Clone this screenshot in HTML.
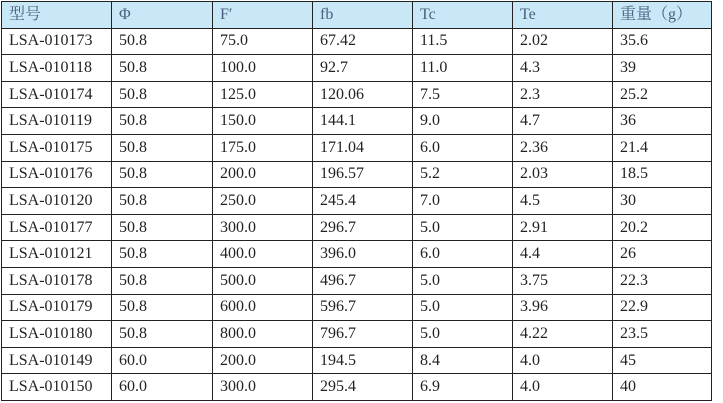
<!DOCTYPE html><html><head><style>
body{margin:0;background:#fff;width:723px;height:403px;overflow:hidden}
table{position:absolute;left:1px;top:1px;border-collapse:collapse;font-family:"Liberation Serif","Noto Serif CJK SC",serif;font-size:16px;color:#222}
tr{height:26.6px}
td{border:1px solid #222;padding:0 0 0 7px;box-sizing:border-box;white-space:nowrap;line-height:16px}
tr.h td{background:#c8e8f8;color:#4a607c}
</style></head><body>
<table>
<colgroup><col style="width:110px"><col style="width:101px"><col style="width:100px"><col style="width:100px"><col style="width:100px"><col style="width:100px"><col style="width:99px"></colgroup>
<tr class="h"><td>型号</td><td>Φ</td><td>F′</td><td>fb</td><td>Tc</td><td>Te</td><td>重量（g）</td></tr>
<tr><td>LSA-010173</td><td>50.8</td><td>75.0</td><td>67.42</td><td>11.5</td><td>2.02</td><td>35.6</td></tr>
<tr><td>LSA-010118</td><td>50.8</td><td>100.0</td><td>92.7</td><td>11.0</td><td>4.3</td><td>39</td></tr>
<tr><td>LSA-010174</td><td>50.8</td><td>125.0</td><td>120.06</td><td>7.5</td><td>2.3</td><td>25.2</td></tr>
<tr><td>LSA-010119</td><td>50.8</td><td>150.0</td><td>144.1</td><td>9.0</td><td>4.7</td><td>36</td></tr>
<tr><td>LSA-010175</td><td>50.8</td><td>175.0</td><td>171.04</td><td>6.0</td><td>2.36</td><td>21.4</td></tr>
<tr><td>LSA-010176</td><td>50.8</td><td>200.0</td><td>196.57</td><td>5.2</td><td>2.03</td><td>18.5</td></tr>
<tr><td>LSA-010120</td><td>50.8</td><td>250.0</td><td>245.4</td><td>7.0</td><td>4.5</td><td>30</td></tr>
<tr><td>LSA-010177</td><td>50.8</td><td>300.0</td><td>296.7</td><td>5.0</td><td>2.91</td><td>20.2</td></tr>
<tr><td>LSA-010121</td><td>50.8</td><td>400.0</td><td>396.0</td><td>6.0</td><td>4.4</td><td>26</td></tr>
<tr><td>LSA-010178</td><td>50.8</td><td>500.0</td><td>496.7</td><td>5.0</td><td>3.75</td><td>22.3</td></tr>
<tr><td>LSA-010179</td><td>50.8</td><td>600.0</td><td>596.7</td><td>5.0</td><td>3.96</td><td>22.9</td></tr>
<tr><td>LSA-010180</td><td>50.8</td><td>800.0</td><td>796.7</td><td>5.0</td><td>4.22</td><td>23.5</td></tr>
<tr><td>LSA-010149</td><td>60.0</td><td>200.0</td><td>194.5</td><td>8.4</td><td>4.0</td><td>45</td></tr>
<tr><td>LSA-010150</td><td>60.0</td><td>300.0</td><td>295.4</td><td>6.9</td><td>4.0</td><td>40</td></tr>
</table>
</body></html>
